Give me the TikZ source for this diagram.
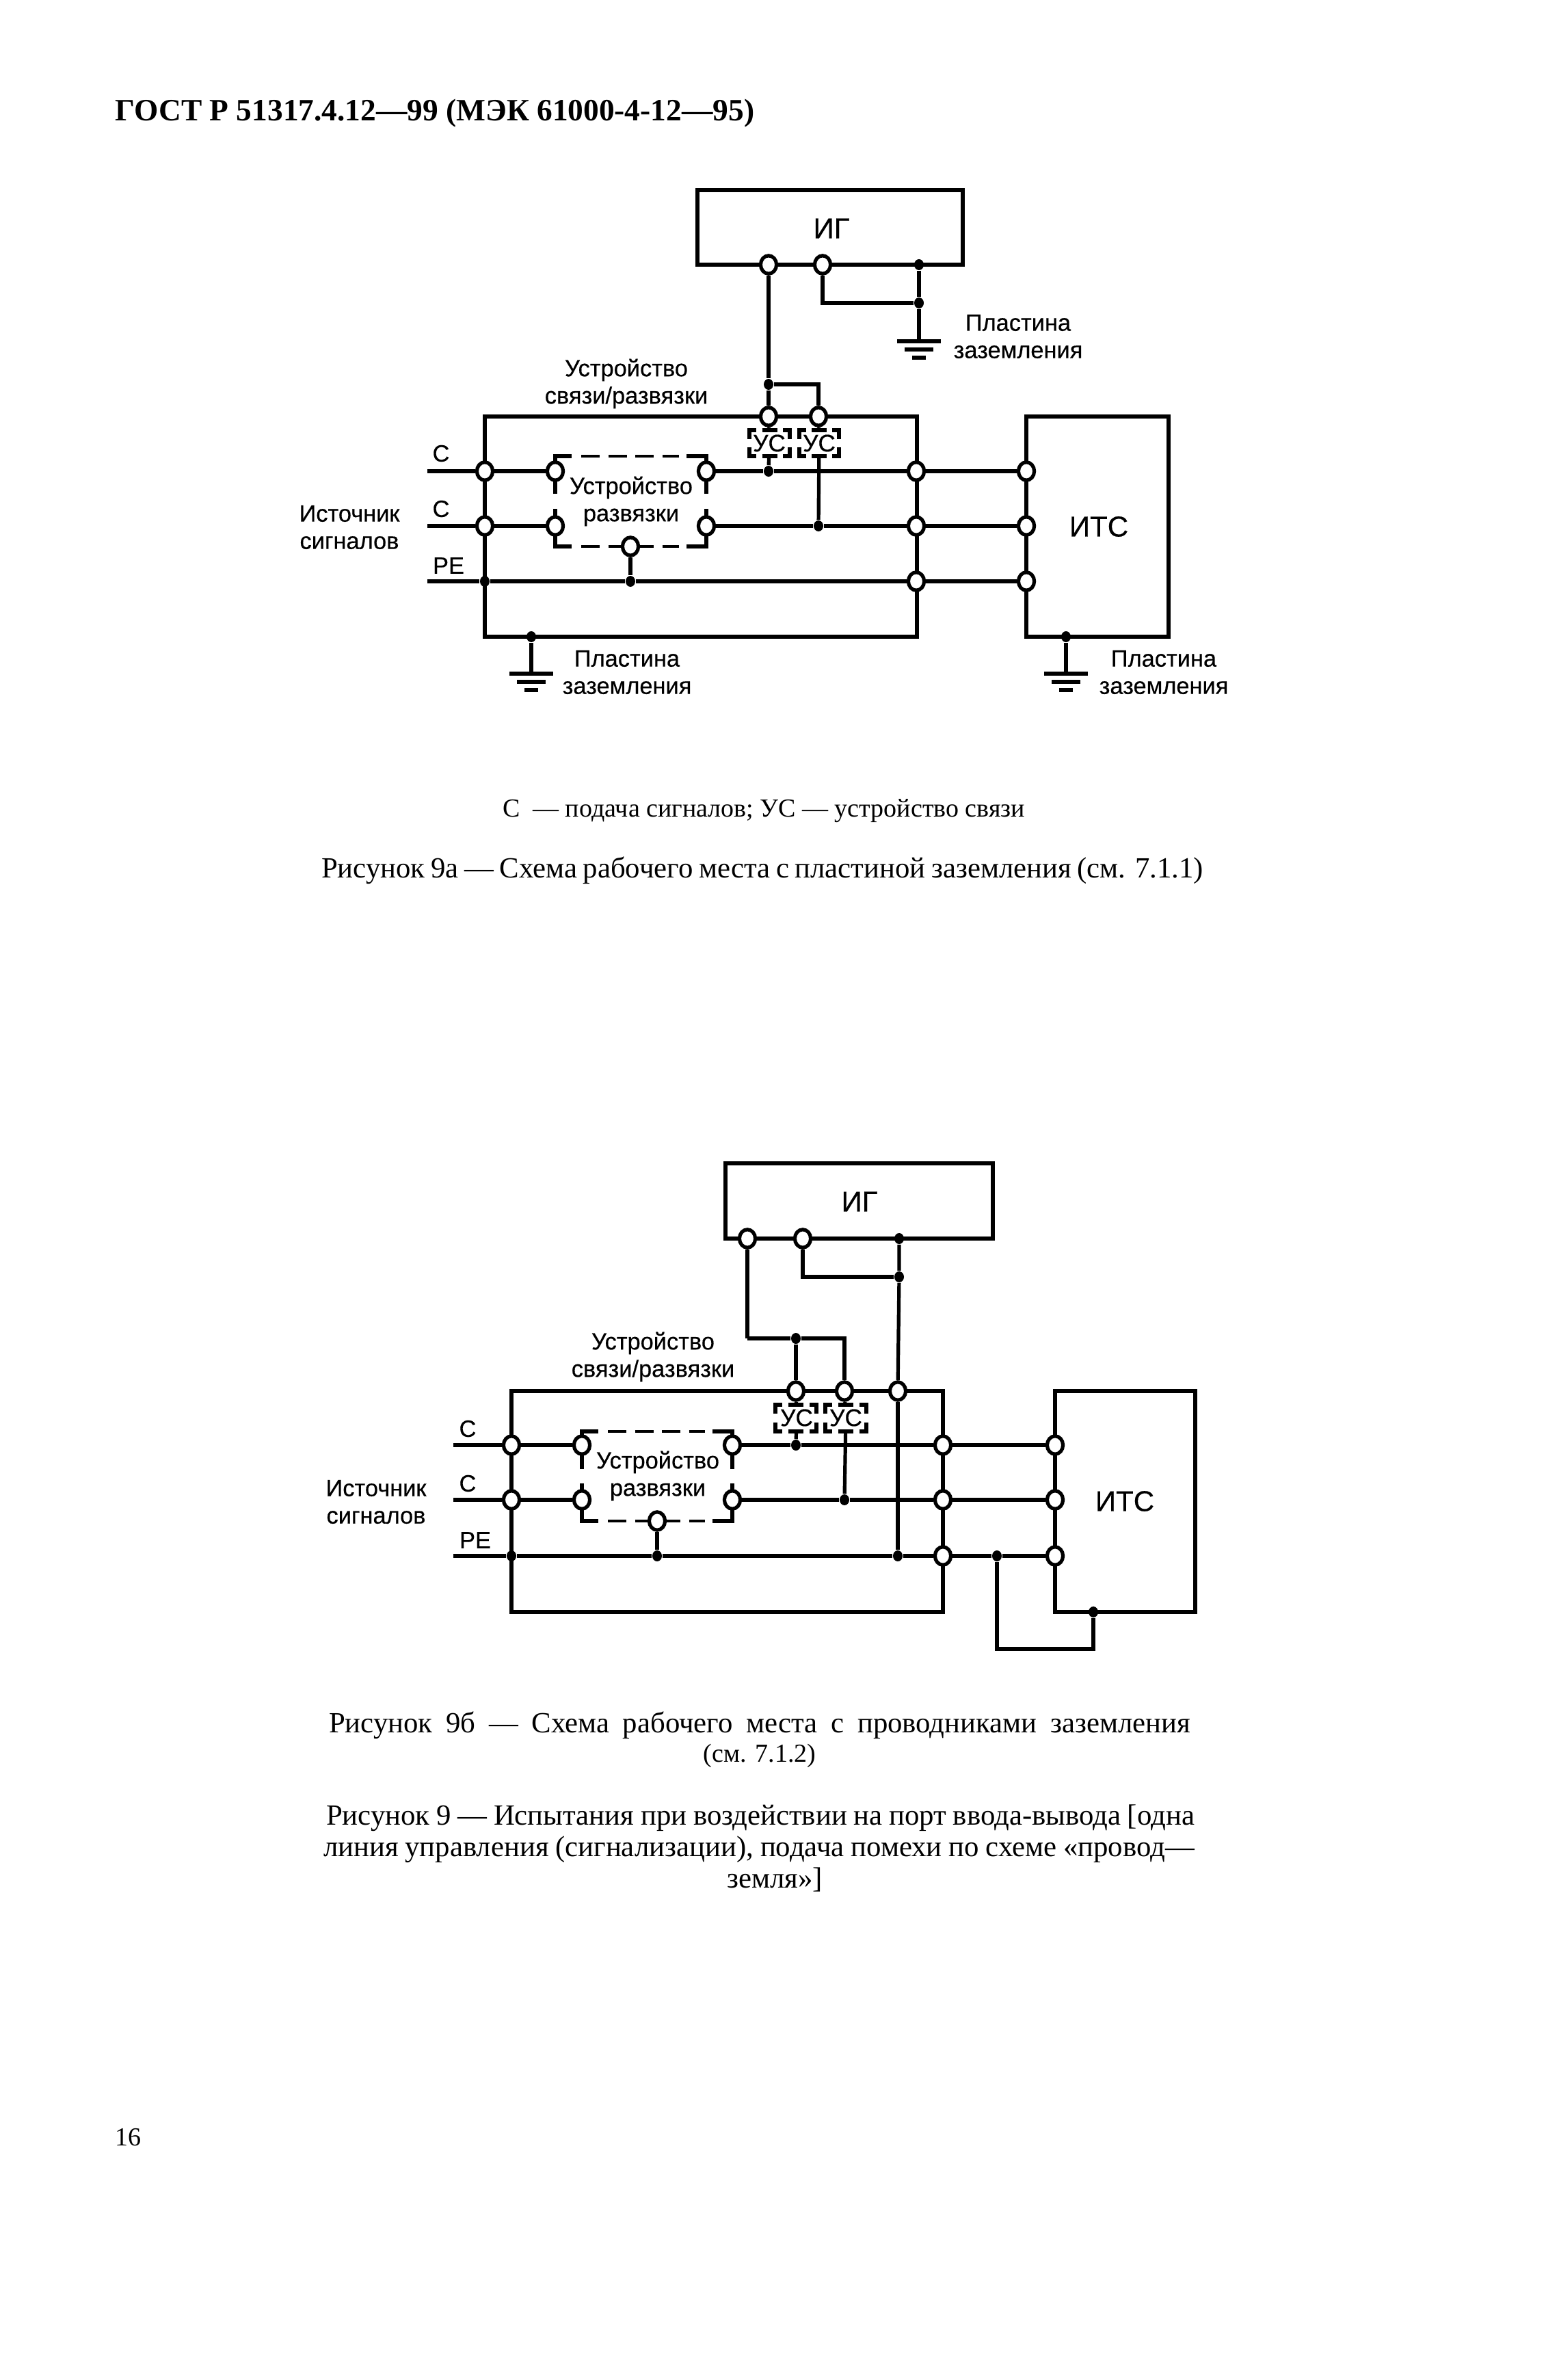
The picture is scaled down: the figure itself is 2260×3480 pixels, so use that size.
\documentclass[tikz,border=0pt]{standalone}
\usepackage{fontspec}
\setmainfont{Liberation Serif}
\newfontfamily\schemefont[FakeBold=0.4]{Liberation Sans}
\usetikzlibrary{calc,shapes.geometric}
\tikzset{
	wire/.style={line width=1.3pt},
	heavy/.style={line width=1.6pt},
	frame/.style={line width=1.6pt},
	term/.style={ellipse,draw,fill=white,line width=1.3pt,minimum width=5.8pt,minimum height=6.6pt,inner sep=0pt},
	dot/.style={ellipse,fill=black,minimum width=3.5pt,minimum height=4pt,inner sep=0pt},
	dashline/.style={line width=1.2pt,dash pattern=on 6.75pt off 3.125pt},
	schemetext/.style={font=\schemefont\fontsize{8.6}{10}\selectfont,inner sep=0pt},
	bigtext/.style={font=\schemefont\fontsize{10.5}{12}\selectfont,inner sep=0pt},
	usbox/.style={font=\schemefont\fontsize{8.8}{10}\selectfont,inner sep=0pt,minimum height=9.5pt},
	pagetext/.style={font=\fontsize{10.7}{12}\selectfont,inner sep=0pt},
	smalltext/.style={font=\fontsize{9.5}{12}\selectfont,inner sep=0pt}
}
% three bars of an earth plate, the wire comes in from above at #1
\def\earthbars#1#2#3{
	\coordinate (#1) at (#2,#3);
	\draw[heavy] (#2-32,#3) -- (#2+32,#3);
	\draw[heavy] (#2-21,#3+12) -- (#2+21,#3+12);
	\draw[heavy] (#2-10,#3+24) -- (#2+10,#3+24);
}
% dashed outline of the decoupling device
\def\uncoupler#1#2#3#4{
	\draw[wire] (#1,#3+55) -- (#1,#3) -- (#1+24,#3);
	\draw[wire] (#2,#3+55) -- (#2,#3) -- (#2-29,#3);
	\draw[dashline] (#1+38,#3) -- (#2-40,#3);
	\draw[wire] (#1,#4-55) -- (#1,#4) -- (#1+24,#4);
	\draw[wire] (#2,#4-55) -- (#2,#4) -- (#2-29,#4);
	\draw[dashline] (#1+38,#4) -- (#2-40,#4);
}
% dashed corners of a coupling device
\def\couplerbox#1#2#3#4{
	\draw[wire] (#1+10,#3) -- (#1,#3) -- (#1,#3+13);
	\draw[wire] (#2-10,#3) -- (#2,#3) -- (#2,#3+13);
	\draw[wire] (#1+10,#4) -- (#1,#4) -- (#1,#4-13);
	\draw[wire] (#2-10,#4) -- (#2,#4) -- (#2,#4-13);
	\draw[wire] (#1/2+#2/2-11,#3) -- (#1/2+#2/2+11,#3);
	\draw[wire] (#1/2+#2/2-11,#4) -- (#1/2+#2/2+11,#4);
}
\begin{document}
\begin{tikzpicture}[x=0.25pt,y=-0.25pt]
	\useasboundingbox (0,0) rectangle (2260,3480);
	
	\node[anchor=west,inner sep=0pt,font=\bfseries\fontsize{11.35}{14}\selectfont] (header) at (168,166) {ГОСТ Р 51317.4.12---99 (МЭК 61000-4-12---95)};
	
	%%%%% figure 9a %%%%%
	\draw[frame] (1020,278) rectangle (1408,387);
	\draw[frame] (709,609) rectangle (1341,931);
	\draw[frame] (1501,609) rectangle (1709,931);
	\uncoupler{812}{1033}{667}{799}
	\couplerbox{1096}{1155}{629}{667}
	\couplerbox{1169}{1227}{629}{667}
	
	\node[bigtext] (ga) at (1216,334) {ИГ};
	\node[bigtext] (eutA) at (1607,770) {ИТС};
	\node[schemetext,align=center] (cdnA) at (916,561) {Устройство\\связи/развязки};
	\node[schemetext,align=center] (cdA) at (923,733) {Устройство\\развязки};
	\node[schemetext,align=center] (srcA) at (511,771) {Источник\\сигналов};
	\node[schemetext,align=center] (gndtextA) at (1489,492) {Пластина\\заземления};
	\node[schemetext,align=center] (gndtextB) at (917,983) {Пластина\\заземления};
	\node[schemetext,align=center] (gndtextC) at (1702,983) {Пластина\\заземления};
	\node[usbox] (usA) at (1125,648) {УС};
	\node[usbox] (usB) at (1198,648) {УС};
	\node[schemetext] (sA) at (645,663) {С};
	\node[schemetext] (sB) at (645,744) {С};
	\node[schemetext] (peA) at (656,827) {РЕ};
	
	\coordinate (inA) at (625,689);
	\coordinate (inB) at (625,769);
	\coordinate (inC) at (625,850);
	
	\node[term] (gaA) at (1124,387) {};
	\node[term] (gaB) at (1203,387) {};
	\node[dot] (gaC) at (1344,387) {};
	\node[dot] (gaD) at (1344,443) {};
	\node[dot] (tapA) at (1124,562) {};
	\node[term] (topA) at (1124,609) {};
	\node[term] (topB) at (1197,609) {};
	\node[term] (leftA) at (709,689) {};
	\node[term] (leftB) at (709,769) {};
	\node[dot] (leftC) at (709,850) {};
	\node[term] (innA) at (812,689) {};
	\node[term] (innB) at (812,769) {};
	\node[term] (outA) at (1033,689) {};
	\node[term] (outB) at (1033,769) {};
	\node[term] (botA) at (922,799) {};
	\node[dot] (peTapA) at (922,850) {};
	\node[dot] (sigA) at (1124,689) {};
	\node[dot] (sigB) at (1197,769) {};
	\node[term] (rightA) at (1340,689) {};
	\node[term] (rightB) at (1340,769) {};
	\node[term] (rightC) at (1340,850) {};
	\node[term] (eutAa) at (1501,689) {};
	\node[term] (eutAb) at (1501,769) {};
	\node[term] (eutAc) at (1501,850) {};
	\node[dot] (floorA) at (777,931) {};
	\node[dot] (floorB) at (1559,931) {};
	
	\earthbars{earthA}{1344}{499}
	\earthbars{earthB}{777}{985}
	\earthbars{earthC}{1559}{985}
	
	\draw[wire] (gaA) -- (tapA) -- (topA);
	\draw[wire] (gaB) |- (gaD);
	\draw[wire] (gaC) -- (gaD) -- (earthA);
	\draw[heavy] (tapA) -| (topB);
	\draw[wire] (topA) -- (usA);
	\draw[wire] (topB) -- (usB);
	\draw[wire] (usA) -- (sigA);
	\draw[wire] (usB) -- (sigB);
	\draw[heavy] (inA) -- (leftA) -- (innA);
	\draw[heavy] (outA) -- (sigA) -- (rightA) -- (eutAa);
	\draw[heavy] (inB) -- (leftB) -- (innB);
	\draw[heavy] (outB) -- (sigB) -- (rightB) -- (eutAb);
	\draw[wire] (inC) -- (leftC) -- (peTapA) -- (rightC) -- (eutAc);
	\draw[wire] (botA) -- (peTapA);
	\draw[wire] (floorA) -- (earthB);
	\draw[wire] (floorB) -- (earthC);
	
	\node[smalltext] (noteA) at (1117,1186) {С~~--- подача сигналов; УС --- устройство связи};
	\node[pagetext] (capA) at (1115,1273) {\makebox[322.5pt][s]{Рисунок 9а --- Схема рабочего места с пластиной заземления (см. 7.1.1)}};
	
	%%%%% figure 9b %%%%%
	\draw[frame] (1061,1701) rectangle (1452,1811);
	\draw[frame] (748,2034) rectangle (1379,2357);
	\draw[frame] (1543,2034) rectangle (1748,2357);
	\uncoupler{851}{1071}{2093}{2224}
	\couplerbox{1134}{1194}{2054}{2093}
	\couplerbox{1207}{1267}{2054}{2093}
	
	\node[bigtext] (gb) at (1257,1757) {ИГ};
	\node[bigtext] (eutB) at (1645,2195) {ИТС};
	\node[schemetext,align=center] (cdnB) at (955,1984) {Устройство\\связи/развязки};
	\node[schemetext,align=center] (cdB) at (962,2158) {Устройство\\развязки};
	\node[schemetext,align=center] (srcB) at (550,2196) {Источник\\сигналов};
	\node[usbox] (usC) at (1165,2073) {УС};
	\node[usbox] (usD) at (1237,2073) {УС};
	\node[schemetext] (sC) at (684,2089) {С};
	\node[schemetext] (sD) at (684,2169) {С};
	\node[schemetext] (peB) at (695,2252) {РЕ};
	
	\coordinate (inD) at (663,2113);
	\coordinate (inE) at (663,2193);
	\coordinate (inF) at (663,2275);
	\coordinate (tieB) at (1093,1957);
	\coordinate (tieE) at (1458,2411);
	\coordinate (tieF) at (1599,2411);
	
	\node[term] (gbA) at (1093,1811) {};
	\node[term] (gbB) at (1174,1811) {};
	\node[dot] (gbC) at (1315,1811) {};
	\node[dot] (gbD) at (1315,1867) {};
	\node[dot] (tapB) at (1164,1957) {};
	\node[term] (topC) at (1164,2034) {};
	\node[term] (topD) at (1235,2034) {};
	\node[term] (topE) at (1313,2034) {};
	\node[term] (leftD) at (748,2113) {};
	\node[term] (leftE) at (748,2193) {};
	\node[dot] (leftF) at (748,2275) {};
	\node[term] (innC) at (851,2113) {};
	\node[term] (innD) at (851,2193) {};
	\node[term] (outC) at (1071,2113) {};
	\node[term] (outD) at (1071,2193) {};
	\node[term] (botB) at (961,2224) {};
	\node[dot] (peTapB) at (961,2275) {};
	\node[dot] (sigC) at (1164,2113) {};
	\node[dot] (sigD) at (1235,2193) {};
	\node[dot] (peTapC) at (1313,2275) {};
	\node[term] (rightD) at (1379,2113) {};
	\node[term] (rightE) at (1379,2193) {};
	\node[term] (rightF) at (1379,2275) {};
	\node[dot] (peTapD) at (1458,2275) {};
	\node[term] (eutBa) at (1543,2113) {};
	\node[term] (eutBb) at (1543,2193) {};
	\node[term] (eutBc) at (1543,2275) {};
	\node[dot] (floorC) at (1599,2357) {};
	
	\draw[wire] (gbA) -- (tieB);
	\draw[heavy] (tieB) -- (tapB);
	\draw[wire] (gbB) |- (gbD);
	\draw[wire] (gbC) -- (gbD) -- (topE);
	\draw[heavy] (tapB) -| (topD);
	\draw[wire] (tapB) -- (topC);
	\draw[wire] (topC) -- (usC);
	\draw[wire] (topD) -- (usD);
	\draw[wire] (usC) -- (sigC);
	\draw[wire] (usD) -- (sigD);
	\draw[wire] (topE) -- (peTapC);
	\draw[heavy] (inD) -- (leftD) -- (innC);
	\draw[heavy] (outC) -- (sigC) -- (rightD) -- (eutBa);
	\draw[wire] (inE) -- (leftE) -- (innD);
	\draw[wire] (outD) -- (sigD) -- (rightE) -- (eutBb);
	\draw[wire] (inF) -- (leftF) -- (peTapB) -- (peTapC) -- (rightF) -- (peTapD) -- (eutBc);
	\draw[wire] (botB) -- (peTapB);
	\draw[heavy] (peTapD) -- (tieE) -- (tieF) -- (floorC);
	
	\node[pagetext] (capB) at (1111,2523) {\makebox[315pt][s]{Рисунок 9б --- Схема рабочего места с проводниками заземления}};
	\node[smalltext] (capBb) at (1111,2567) {(см. 7.1.2)};
	\node[pagetext] (capCa) at (1112,2658) {\makebox[317.5pt][s]{Рисунок 9 --- Испытания при воздействии на порт ввода-вывода [одна}};
	\node[pagetext] (capCb) at (1110,2704) {\makebox[318.5pt][s]{линия управления (сигнализации), подача помехи по схеме «провод---}};
	\node[pagetext] (capCc) at (1133,2748) {земля»]};
	\node[smalltext,anchor=west] (pageno) at (168,3125) {16};
\end{tikzpicture}
\end{document}
